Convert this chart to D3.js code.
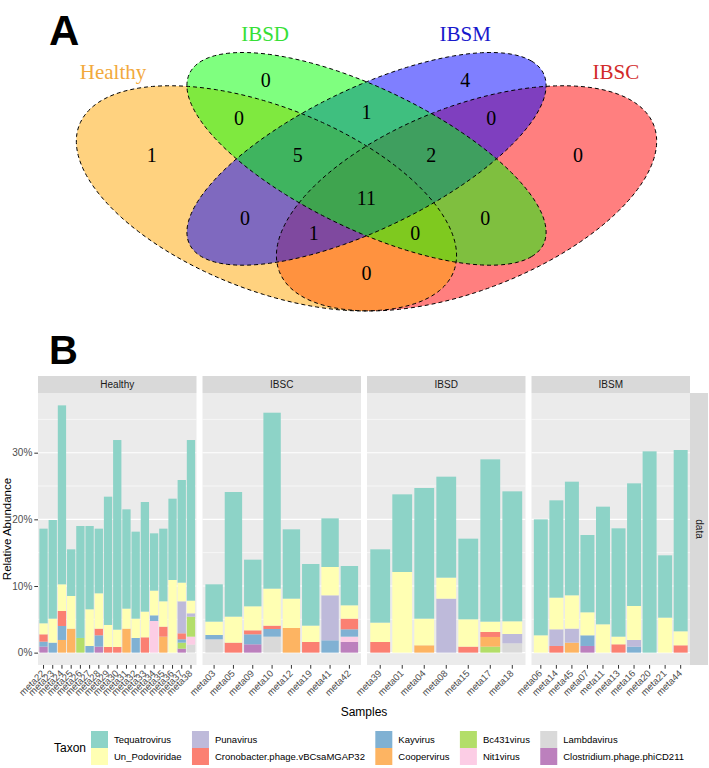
<!DOCTYPE html>
<html><head><meta charset="utf-8">
<script src="https://cdn.jsdelivr.net/npm/d3@7"></script>
<style>body{margin:0;background:#fff} svg{display:block}</style>
</head><body><svg id="c" width="709" height="768"></svg>
<script>
// ---------------- Panel A data ----------------
const vennSets = ["Healthy", "IBSD", "IBSM", "IBSC"];
const vennFill = ["#FFA500", "#00FF00", "#0000FF", "#FF0000"];
const vennLabelColors = ["#F2A93C", "#36E036", "#1818CC", "#D22A2A"];
const vennRegions = ["IBSD", "IBSM", "Healthy", "IBSC", "IBSD&IBSM", "Healthy&IBSD", "IBSM&IBSC",
  "Healthy&IBSD&IBSM", "IBSD&IBSM&IBSC", "Healthy&IBSD&IBSM&IBSC", "Healthy&IBSM", "IBSD&IBSC",
  "Healthy&IBSM&IBSC", "Healthy&IBSD&IBSC", "Healthy&IBSC"];
const vennCounts = [0, 4, 1, 0, 1, 0, 0, 5, 2, 11, 0, 0, 1, 0, 0];

// ---------------- Panel B data ----------------
const groups = ["Healthy", "IBSC", "IBSD", "IBSM"];
const samples = ["meta22","meta23","meta24","meta25","meta26","meta27","meta28","meta29","meta30","meta31","meta32","meta33","meta34","meta35","meta36","meta37","meta38",
  "meta03","meta05","meta09","meta10","meta12","meta19","meta41","meta42",
  "meta39","meta01","meta04","meta08","meta15","meta17","meta18",
  "meta06","meta14","meta45","meta07","meta11","meta13","meta16","meta20","meta21","meta44"];
const sampleGroup = [].concat(Array(17).fill("Healthy"), Array(8).fill("IBSC"), Array(7).fill("IBSD"), Array(10).fill("IBSM"));
const taxa = ["Tequatrovirus","Un_Podoviridae","Punavirus","Cronobacter.phage.vBCsaMGAP32","Kayvirus","Coopervirus","Bc431virus","Nit1virus","Lambdavirus","Clostridium.phage.phiCD211"];
const taxonColors = ["#8DD3C7","#FFFFB3","#BEBADA","#FB8072","#80B1D3","#FDB462","#B3DE69","#FCCDE5","#D9D9D9","#BC80BD"];
const yTicks = [0, 10, 20, 30];

const tequatrovirus = [14.2,14.8,26.85,7.0,16.8,12.5,9.7,19.25,28.45,14.9,13.05,16.45,8.6,10.9,12.2,15.4,24.1,
  5.6,18.7,7.0,26.4,10.4,9.25,7.3,5.9,
  11.0,11.65,19.6,15.15,12.1,24.35,19.5,
  17.4,14.6,17.05,11.6,17.65,16.25,18.4,30.2,9.35,27.2];
const unPodoviridae = [1.65,3.6,4.0,4.9,0,5.5,5.3,3.3,2.6,3.0,2.9,3.85,3.7,3.8,10.9,2.8,1.9,
  2.0,3.9,3.6,5.55,4.4,2.45,4.25,2.0,
  2.9,12.1,4.0,3.15,4.1,1.55,1.9,
  2.6,4.75,5.0,3.45,4.25,1.15,5.1,0,5.25,2.1];
const punavirus = [0,0,0,0,0,0,0,0,0,0,0,0,0,0,0,4.8,0.5,
  0,0,0,0,0,0,6.75,0,
  0,0,0,8.1,0,0,1.4,
  0,2.5,2.1,0,0,0,1.0,0,0,0];
const cronobacter = [1.1,0,2.25,0,0,0,1.0,0.85,0.85,0,0,2.3,0,1.5,0,0.9,0,
  0,1.5,0.6,0.5,0,1.6,0,1.6,
  1.6,0,0,0,0.9,0.75,0,
  0,1.0,0,0,0,1.25,0,0,0,1.1];
const kayvirus = [0.75,1.5,2.1,0,0,1.0,1.7,0,0,0,2.2,0,0.85,0,0,0.5,0,
  0.65,0,1.5,1.15,0,0,1.85,1.1,
  0,0,0,0,0,0,0,
  0,0,0,1.6,0,0,0.9,0,0,0];
const coopervirus = [0,0,1.9,3.6,0,0,0,0,0,3.6,0,0,0,2.4,0,0,0,
  0,0,0,0,3.7,0,0,0,
  0,0,1.1,0,0,1.45,0,
  0,0,1.5,0,0,0,0,0,0,0];
const bc431virus = [0,0,0,0,2.2,0,0,0,0,0,0,0,0,0,0,0.9,3.0,
  0,0,0,0,0,0,0,0,
  0,0,0,0,0,0.9,0,
  0,0,0,0,0,0,0,0,0,0];
const nit1virus = [0,0,0,0,0,0,0,0,0,0,0,0,4.75,0,0,0,1.2,
  0,0,0,0,0,0,0,0.8,
  0,0,0,0,0,0,0,
  0,0,0,0,0,0,0,0,0,0];
const lambdavirus = [0,0,0,0,0,0,0,0,0,0,0,0,0,0,0,0,1.2,
  2.0,0,0,2.4,0,0,0,0,
  0,0,0,0,0,0,1.4,
  0,0,0,0,0,0,0,0,0,0];
const clostridium = [0.9,0,0,0,0,0,0.9,0,0,0,0,0,0,0,0,0.6,0,
  0,0,1.25,0,0,0,0,1.6,
  0,0,0,0,0,0,0,
  0,0,0,1.0,0,0,0,0,0,0];
const taxonValues = [tequatrovirus, unPodoviridae, punavirus, cronobacter, kayvirus, coopervirus, bc431virus, nit1virus, lambdavirus, clostridium];

// ================= drawing =================
const svg = d3.select("#c");
const SANS = "'Liberation Sans', Arial, sans-serif";
const SERIF = "'Liberation Serif', 'Times New Roman', serif";

// ---------- Panel A: Venn ----------
const xV = d3.scaleLinear().domain([0, 1]).range([33, 700]);
const yV = d3.scaleLinear().domain([0, 1]).range([384, -11]);
const ellipseLayout = {
  Healthy: {cx: 0.35, cy: 0.47, a: 0.35, b: 0.2, rot: -45},
  IBSD:    {cx: 0.5,  cy: 0.57, a: 0.35, b: 0.15, rot: -45},
  IBSM:    {cx: 0.5,  cy: 0.57, a: 0.35, b: 0.15, rot: 45},
  IBSC:    {cx: 0.65, cy: 0.47, a: 0.35, b: 0.2, rot: 45}
};
const drawOrder = ["IBSC", "Healthy", "IBSM", "IBSD"];
const catLabelPos = {Healthy: [0.12, 0.79], IBSD: [0.348, 0.885], IBSM: [0.648, 0.885], IBSC: [0.874, 0.79]};
const regionPos = [[0.349,0.77],[0.648,0.77],[0.178,0.58],[0.817,0.58],[0.5,0.689],[0.309,0.673],[0.687,0.673],
  [0.397,0.58],[0.597,0.58],[0.5,0.471],[0.318,0.42],[0.678,0.42],[0.421,0.382],[0.573,0.382],[0.5,0.281]];

const ellLine = d3.line().x(d => xV(d[0])).y(d => yV(d[1])).curve(d3.curveLinearClosed);
function ellipsePts(e) {
  const th = e.rot * Math.PI / 180;
  return d3.range(0, 200).map(i => {
    const t = i / 200 * 2 * Math.PI;
    const px = e.a * Math.cos(t), py = e.b * Math.sin(t);
    return [e.cx + px * Math.cos(th) - py * Math.sin(th), e.cy + px * Math.sin(th) + py * Math.cos(th)];
  });
}
const gA = svg.append("g");
drawOrder.forEach(name => {
  const i = vennSets.indexOf(name);
  gA.append("path").attr("d", ellLine(ellipsePts(ellipseLayout[name])))
    .attr("fill", vennFill[i]).attr("fill-opacity", 0.5).attr("stroke", "none");
});
drawOrder.forEach(name => {
  gA.append("path").attr("d", ellLine(ellipsePts(ellipseLayout[name])))
    .attr("fill", "none").attr("stroke", "#000").attr("stroke-width", 1).attr("stroke-dasharray", "4,3");
});
vennRegions.forEach((r, i) => {
  gA.append("text").attr("x", xV(regionPos[i][0])).attr("y", yV(regionPos[i][1]))
    .attr("text-anchor", "middle").attr("dominant-baseline", "central")
    .attr("font-family", SERIF).attr("font-size", 20).attr("fill", "#000").text(vennCounts[i]);
});
vennSets.forEach((s, i) => {
  gA.append("text").attr("x", xV(catLabelPos[s][0])).attr("y", yV(catLabelPos[s][1]))
    .attr("text-anchor", "middle").attr("dominant-baseline", "central")
    .attr("font-family", SERIF).attr("font-size", 21).attr("fill", vennLabelColors[i]).text(s);
});
svg.append("text").attr("x", 49).attr("y", 45).attr("font-family", SANS).attr("font-weight", "bold")
  .attr("font-size", 42).text("A");
svg.append("text").attr("x", 49).attr("y", 364).attr("font-family", SANS).attr("font-weight", "bold")
  .attr("font-size", 40).text("B");

// ---------- Panel B: faceted stacked bars ----------
const rows = samples.map((s, i) => {
  const r = {sample: s, group: sampleGroup[i]};
  taxa.forEach((t, k) => r[t] = taxonValues[k][i]);
  return r;
});
const totals = rows.map(r => d3.sum(taxa, t => r[t]));
const ymax = d3.max(totals);
const panelTop = 393, panelBottom = 665, stripH = 17;
const y = d3.scaleLinear().domain([-0.05 * ymax, ymax * 1.05]).range([panelBottom, panelTop]);
const panelLeft = 38, panelRight = 690, gap = 6;
const pw = (panelRight - panelLeft - 3 * gap) / 4;
const color = d3.scaleOrdinal().domain(taxa).range(taxonColors);
const stackKeys = taxa.slice().reverse();

groups.forEach((grp, gi) => {
  const x0 = panelLeft + gi * (pw + gap);
  const gRows = rows.filter(r => r.group === grp);
  const x = d3.scaleBand().domain(gRows.map(r => r.sample)).range([x0, x0 + pw]).paddingInner(0.1).paddingOuter(0.15);
  const g = svg.append("g");
  g.append("rect").attr("x", x0).attr("y", panelTop).attr("width", pw).attr("height", panelBottom - panelTop).attr("fill", "#EBEBEB");
  [5, 15, 25, 35].forEach(v => g.append("line").attr("x1", x0).attr("x2", x0 + pw).attr("y1", y(v)).attr("y2", y(v))
    .attr("stroke", "#fff").attr("stroke-width", 0.6));
  yTicks.forEach(v => g.append("line").attr("x1", x0).attr("x2", x0 + pw).attr("y1", y(v)).attr("y2", y(v))
    .attr("stroke", "#fff").attr("stroke-width", 1.1));
  const series = d3.stack().keys(stackKeys)(gRows);
  series.forEach(s => {
    g.selectAll(null).data(s.filter(d => d[1] - d[0] > 0)).enter().append("rect")
      .attr("x", d => x(d.data.sample)).attr("width", x.bandwidth())
      .attr("y", d => y(d[1])).attr("height", d => y(d[0]) - y(d[1]))
      .attr("fill", color(s.key));
  });
  g.append("rect").attr("x", x0).attr("y", panelTop - stripH).attr("width", pw).attr("height", stripH).attr("fill", "#D9D9D9");
  g.append("text").attr("x", x0 + pw / 2).attr("y", panelTop - stripH / 2).attr("dominant-baseline", "central")
    .attr("text-anchor", "middle").attr("font-family", SANS).attr("font-size", 10).attr("fill", "#1A1A1A").text(grp);
  const ax = g.append("g").attr("transform", `translate(0,${panelBottom})`)
    .call(d3.axisBottom(x).tickSize(3.7).tickPadding(0));
  ax.select(".domain").remove();
  ax.selectAll(".tick line").attr("stroke", "#333").attr("stroke-width", 1);
  ax.selectAll(".tick text").attr("font-family", SANS).attr("font-size", 9.5).attr("fill", "#4D4D4D")
    .attr("text-anchor", "end").attr("dy", null).attr("y", null)
    .attr("transform", "translate(2,9) rotate(-45)");
});
svg.append("rect").attr("x", panelRight).attr("y", panelTop).attr("width", 18).attr("height", panelBottom - panelTop).attr("fill", "#D9D9D9");
svg.append("text").attr("transform", `translate(${panelRight + 9},${(panelTop + panelBottom) / 2}) rotate(90)`)
  .attr("text-anchor", "middle").attr("dominant-baseline", "central").attr("font-family", SANS).attr("font-size", 10)
  .attr("fill", "#1A1A1A").text("data");

const yax = svg.append("g").attr("transform", `translate(${panelLeft},0)`)
  .call(d3.axisLeft(y).tickValues(yTicks).tickFormat(d => d + "%").tickSize(3.7).tickPadding(2));
yax.select(".domain").remove();
yax.selectAll(".tick line").attr("stroke", "#333");
yax.selectAll(".tick text").attr("font-family", SANS).attr("font-size", 10).attr("fill", "#4D4D4D");

svg.append("text").attr("x", (panelLeft + panelRight) / 2).attr("y", 716).attr("text-anchor", "middle")
  .attr("font-family", SANS).attr("font-size", 12).attr("fill", "#000").text("Samples");
svg.append("text").attr("transform", `translate(11,${(panelTop + panelBottom) / 2}) rotate(-90)`).attr("text-anchor", "middle")
  .attr("font-family", SANS).attr("font-size", 11.5).attr("fill", "#000").text("Relative Abundance");

// legend: columns laid out from measured label widths
const legStart = 91, legEnd = 684, keyW = 17, keyPad = 6;
const legRowY = [731, 748];
const lg = svg.append("g");
lg.append("text").attr("x", 54).attr("y", 748).attr("dominant-baseline", "central").attr("font-family", SANS)
  .attr("font-size", 12).text("Taxon");
const legTexts = taxa.map((t, i) => {
  const c = Math.floor(i / 2), r = i % 2;
  return lg.append("text").attr("y", legRowY[r] + 8.5).attr("dominant-baseline", "central")
    .attr("font-family", SANS).attr("font-size", 9.5).attr("fill", "#000").text(t);
});
const nCols = 5;
const colW = d3.range(nCols).map(c => d3.max([0, 1].map(r => legTexts[c * 2 + r].node().getComputedTextLength())));
const used = d3.sum(colW) + nCols * (keyW + keyPad);
const colGap = (legEnd - legStart - used) / (nCols - 1);
let cx = legStart;
d3.range(nCols).forEach(c => {
  [0, 1].forEach(r => {
    const i = c * 2 + r;
    lg.append("rect").attr("x", cx).attr("y", legRowY[r]).attr("width", keyW).attr("height", keyW).attr("fill", color(taxa[i]));
    legTexts[i].attr("x", cx + keyW + keyPad);
  });
  cx += keyW + keyPad + colW[c] + colGap;
});
</script></body></html>
